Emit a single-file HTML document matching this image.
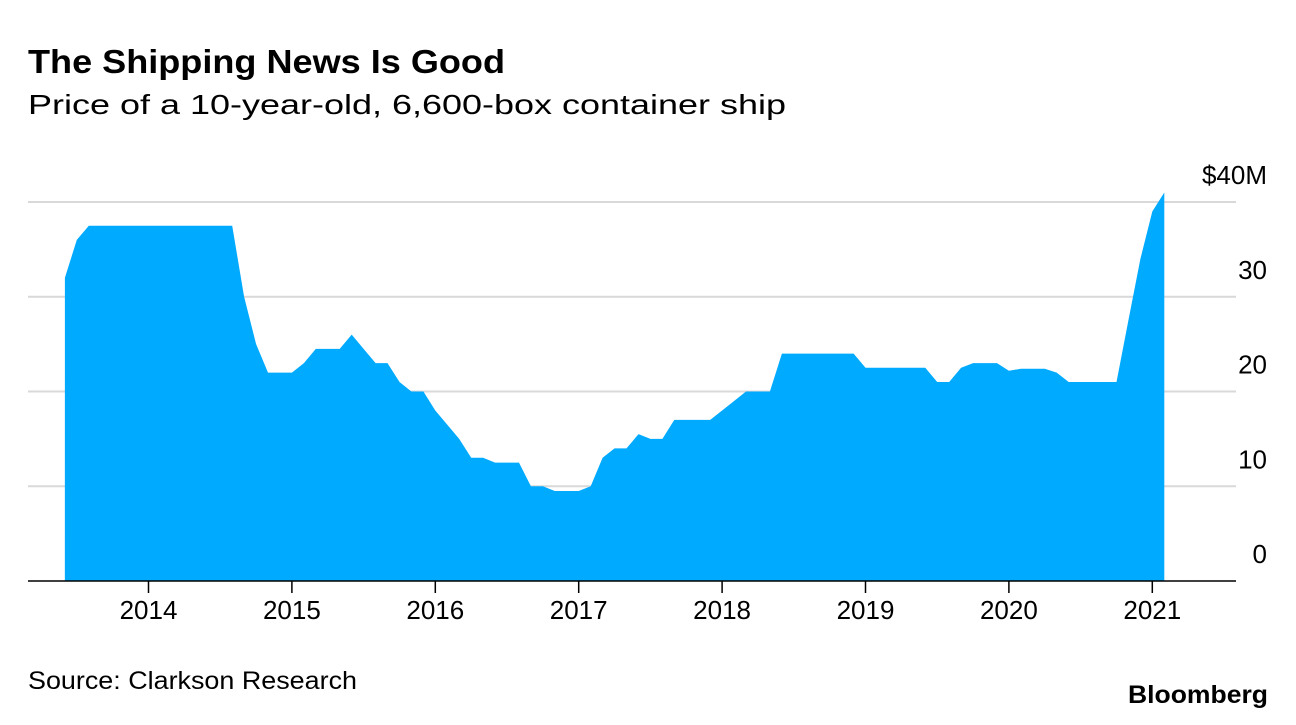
<!DOCTYPE html>
<html><head><meta charset="utf-8"><style>
body{margin:0;background:#fff;width:1296px;height:720px;overflow:hidden;font-family:"Liberation Sans",sans-serif;}
svg text{font-family:"Liberation Sans",sans-serif;}
</style></head><body>
<svg width="1296" height="720">
<text x="28" y="73" font-size="33" font-weight="bold" fill="#000" textLength="477" lengthAdjust="spacingAndGlyphs">The Shipping News Is Good</text>
<text x="28" y="114" font-size="28" fill="#000" textLength="758" lengthAdjust="spacingAndGlyphs">Price of a 10-year-old, 6,600-box container ship</text>
<g id="grid"></g>
<path id="area" fill="#00aaff"></path>
<g id="axis"></g>
<text x="28" y="689" font-size="25" fill="#000" textLength="329" lengthAdjust="spacingAndGlyphs">Source: Clarkson Research</text>
<text x="1128" y="703" font-size="25" font-weight="bold" fill="#000" textLength="140" lengthAdjust="spacingAndGlyphs">Bloomberg</text>
</svg>
<script>
const startYear = 2013 + 5/12;
const prices = [32,36,37.5,37.5,37.5,37.5,37.5,37.5,37.5,37.5,37.5,37.5,37.5,37.5,37.5,
30,25,22,22,22,23,24.5,24.5,24.5,26,24.5,23,23,21,20,20,18,16.5,15,13,13,12.5,12.5,12.5,
10,10,9.5,9.5,9.5,10,13,14,14,15.5,15,15,17,17,17,17,18,19,20,20,20,
24,24,24,24,24,24,24,22.5,22.5,22.5,22.5,22.5,22.5,21,21,22.5,23,23,23,22.2,22.4,22.4,22.4,22,
21,21,21,21,21,27.5,34,39,41];
const yTicks = [0,10,20,30,40];
const yTickLabels = ["0","10","20","30","$40M"];
const years = [2014,2015,2016,2017,2018,2019,2020,2021];

const xS = t => 148.5 + (t - 2014) * 143.4;
const yS = v => 581 - v * 9.475;
const NS = "http://www.w3.org/2000/svg";
const grid = document.getElementById('grid');
const axis = document.getElementById('axis');

yTicks.forEach((v,i)=>{
  if (v>0){
    const l=document.createElementNS(NS,'line');
    l.setAttribute('x1',28);l.setAttribute('x2',1236);
    l.setAttribute('y1',yS(v));l.setAttribute('y2',yS(v));
    l.setAttribute('stroke','#d9d9d9');l.setAttribute('stroke-width','2');
    
    
    grid.appendChild(l);
  }
  const t=document.createElementNS(NS,'text');
  t.setAttribute('x',1267);t.setAttribute('y',yS(v)-18);
  t.setAttribute('text-anchor','end');t.setAttribute('font-size','26');
  t.textContent=yTickLabels[i];
  
  
  grid.appendChild(t);
});

let d='M'+xS(startYear)+','+yS(0);
prices.forEach((p,i)=>{ d+=' L'+xS(startYear+i/12).toFixed(1)+','+yS(p).toFixed(1); });
d+=' L'+xS(startYear+(prices.length-1)/12).toFixed(1)+','+yS(0)+' Z';
document.getElementById('area').setAttribute('d',d);

const base=document.createElementNS(NS,'line');
base.setAttribute('x1',28);base.setAttribute('x2',1236);base.setAttribute('y1',581);base.setAttribute('y2',581);
base.setAttribute('stroke','#000');base.setAttribute('stroke-width','1.5');


axis.appendChild(base);
years.forEach(y=>{
  const tk=document.createElementNS(NS,'line');
  tk.setAttribute('x1',xS(y));tk.setAttribute('x2',xS(y));tk.setAttribute('y1',581);tk.setAttribute('y2',593);
  tk.setAttribute('stroke','#000');tk.setAttribute('stroke-width','1.5');
  
  
  axis.appendChild(tk);
  const t=document.createElementNS(NS,'text');
  t.setAttribute('x',xS(y));t.setAttribute('y',619);t.setAttribute('text-anchor','middle');t.setAttribute('font-size','26');
  t.textContent=y;
  
  
  axis.appendChild(t);
});
</script>
</body></html>
